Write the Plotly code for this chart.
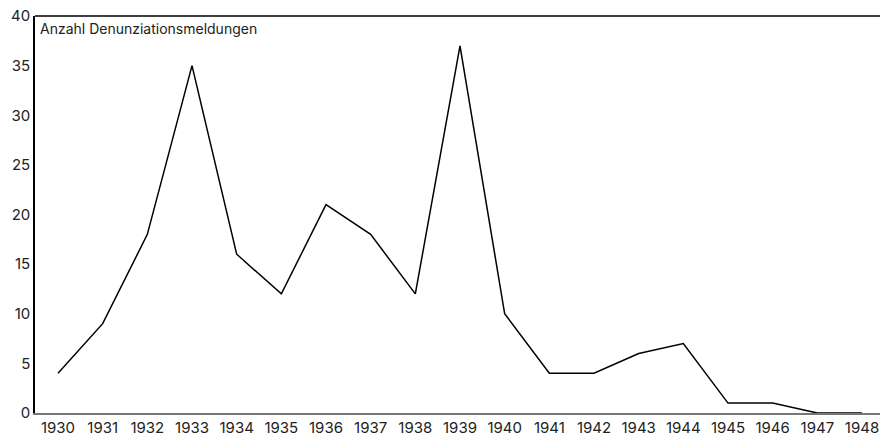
import plotly.graph_objects as go

years = list(range(1930, 1949))
counts = [4, 9, 18, 35, 16, 12, 21, 18, 12, 37, 10, 4, 4, 6, 7, 1, 1, 0, 0]
y_ticks = [0, 5, 10, 15, 20, 25, 30, 35, 40]
y_title = "Anzahl Denunziationsmeldungen"

fig = go.Figure()
fig.add_trace(go.Scatter(x=years, y=counts, mode="lines",
                         line=dict(color="black", width=1.5), hoverinfo="x+y"))

fig.update_layout(
    width=880, height=438,
    margin=dict(l=35, r=0, t=16, b=25),
    paper_bgcolor="white", plot_bgcolor="white",
    font=dict(family="Inter, Roboto, sans-serif", size=15, color="#222"),
    showlegend=False,
    xaxis=dict(range=[1929.485, 1948.403], tickmode="array", tickvals=years,
               ticktext=[str(y) for y in years], showgrid=False, zeroline=False,
               showline=True, linecolor="#777", linewidth=1.5, ticks="", ticklen=0,
               automargin=False),
    yaxis=dict(range=[0, 40], tickmode="array", tickvals=y_ticks, showgrid=False,
               zeroline=False, showline=True, linecolor="black", linewidth=1.5,
               ticks="", ticklen=0, automargin=False),
    shapes=[dict(type="line", xref="paper", yref="paper", x0=0, x1=1, y0=1, y1=1,
                 line=dict(color="black", width=1.5))],
    annotations=[dict(text=y_title, xref="paper", yref="paper", x=0.004, y=0.995,
                      xanchor="left", yanchor="top", showarrow=False,
                      font=dict(size=14, color="#222"))],
)

fig.write_html("out.html", config={"displayModeBar": False},
               post_script="document.body.style.margin='0';document.body.style.overflow='hidden';")
